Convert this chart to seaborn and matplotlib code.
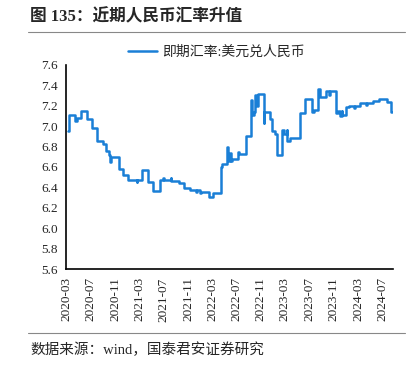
import matplotlib
matplotlib.use("Agg")
import matplotlib.pyplot as plt
import seaborn as sns
import pandas as pd

dates = [
    "2020-03-12", "2020-03-15", "2020-04-16", "2020-04-25", "2020-05-13", "2020-06-13",
    "2020-07-10", "2020-08-01", "2020-09-04", "2020-09-16", "2020-10-01", "2020-10-07",
    "2020-10-10", "2020-11-19", "2020-12-13", "2021-01-07", "2021-02-18", "2021-02-21",
    "2021-03-16", "2021-04-13", "2021-05-10", "2021-06-16", "2021-07-01", "2021-07-04",
    "2021-08-06", "2021-08-09", "2021-09-16", "2021-10-10", "2021-11-13", "2021-12-13",
    "2021-12-16", "2022-01-01", "2022-01-04", "2022-02-13", "2022-03-07", "2022-04-13",
    "2022-04-20", "2022-05-16", "2022-05-19", "2022-06-01", "2022-06-04", "2022-06-10",
    "2022-07-10", "2022-07-13", "2022-08-16", "2022-09-13", "2022-09-16", "2022-09-28",
    "2022-10-04", "2022-10-13", "2022-10-16", "2022-11-15", "2022-11-18", "2022-12-16",
    "2022-12-28", "2023-01-13", "2023-01-19", "2023-02-16", "2023-02-25", "2023-03-10",
    "2023-03-13", "2023-03-25", "2023-05-15", "2023-05-18", "2023-06-10", "2023-07-16",
    "2023-07-25", "2023-08-13", "2023-08-22", "2023-08-25", "2023-09-01", "2023-09-22",
    "2023-10-10", "2023-10-13", "2023-11-10", "2023-11-22", "2023-12-04", "2023-12-10",
    "2023-12-13", "2024-01-01", "2024-01-16", "2024-02-10", "2024-02-13", "2024-03-13",
    "2024-04-10", "2024-04-13", "2024-05-13", "2024-06-13", "2024-07-22", "2024-08-13",
    "2024-08-16",
]
rates = [
    6.95, 7.11, 7.055, 7.08, 7.145, 7.07,
    6.98, 6.85, 6.83, 6.76, 6.72, 6.65,
    6.70, 6.58, 6.52, 6.47, 6.45, 6.47,
    6.57, 6.456, 6.36, 6.47, 6.49, 6.47,
    6.49, 6.46, 6.44, 6.39, 6.37, 6.35,
    6.37, 6.34, 6.355, 6.31, 6.34, 6.60,
    6.63, 6.80, 6.66, 6.74, 6.66, 6.68,
    6.75, 6.73, 6.90, 7.26, 7.11, 7.14,
    7.31, 7.20, 7.32, 7.03, 7.14, 7.07,
    6.95, 6.92, 6.72, 6.96, 6.92, 6.96,
    6.85, 6.88, 6.93, 7.13, 7.27, 7.14,
    7.16, 7.36, 7.31, 7.29, 7.29, 7.34,
    7.31, 7.34, 7.13, 7.15, 7.10, 7.15,
    7.11, 7.19, 7.20, 7.18, 7.20, 7.23,
    7.21, 7.23, 7.25, 7.27, 7.24, 7.14,
    7.14,
]
tick_labels = ["2020-03", "2020-07", "2020-11", "2021-03", "2021-07", "2021-11",
               "2022-03", "2022-07", "2022-11", "2023-03", "2023-07", "2023-11",
               "2024-03", "2024-07"]
y_ticks = [5.6, 5.8, 6.0, 6.2, 6.4, 6.6, 6.8, 7.0, 7.2, 7.4, 7.6]
series_name = "即期汇率:美元兑人民币"

sns.set_style("white")
fam = ["Liberation Serif", "Noto Sans CJK SC"]
plt.rcParams["font.family"] = fam

df = pd.DataFrame({"date": pd.to_datetime(dates), "rate": rates})

fig = plt.figure(figsize=(4.13, 3.69), dpi=100)
ax = fig.add_axes([0.16, 0.271, 0.791, 0.553])
sns.lineplot(data=df, x="date", y="rate", ax=ax, color="#1a7fd6", lw=1.8,
             drawstyle="steps-post", label=series_name)

ax.set_xlim(pd.Timestamp("2020-03-01"), pd.Timestamp("2024-08-22"))
ax.set_ylim(5.6, 7.6)
ax.set_yticks(y_ticks)
ax.set_yticklabels([f"{v:.1f}" for v in y_ticks], fontsize=9.5)
ax.set_xticks([pd.Timestamp(t + "-01") for t in tick_labels])
ax.set_xticklabels(tick_labels, rotation=90, fontsize=9.5)
ax.set_xlabel("")
ax.set_ylabel("")
for s in ["top", "right"]:
    ax.spines[s].set_visible(False)
for s in ["left", "bottom"]:
    ax.spines[s].set_color("black")
    ax.spines[s].set_linewidth(1.2)
ax.tick_params(axis="both", direction="out", length=4, width=1, color="black", pad=2)
ax.grid(False)

leg = ax.legend(loc="lower center", bbox_to_anchor=(0.46, 0.99), frameon=False,
                fontsize=10, handlelength=2.1, handletextpad=0.4, borderaxespad=0.2)

fig.text(0.073, 0.953, "图 135：近期人民币汇率升值", fontsize=12, fontweight="bold",
         family=fam, ha="left", va="center")
fig.add_artist(plt.Line2D([0.068, 0.98], [0.912, 0.912], color="#888888", lw=0.8))
fig.add_artist(plt.Line2D([0.068, 0.98], [0.097, 0.097], color="#888888", lw=0.8))
fig.text(0.073, 0.052, "数据来源：wind，国泰君安证券研究", fontsize=10.5,
         family=fam, ha="left", va="center")

fig.savefig("out.png", dpi=100)
